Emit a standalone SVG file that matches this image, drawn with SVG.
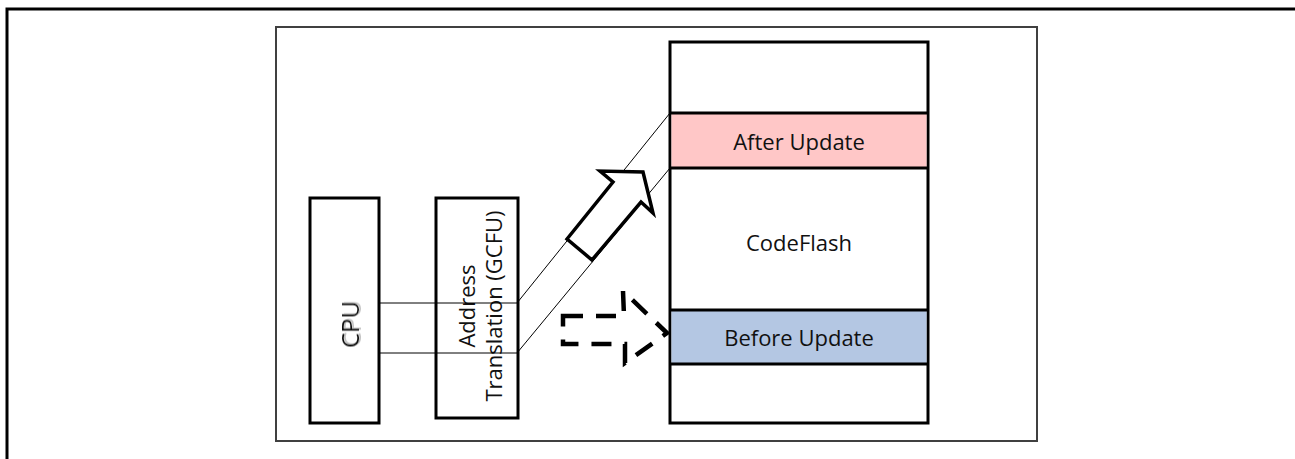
<svg xmlns="http://www.w3.org/2000/svg" width="1295" height="459" viewBox="0 0 1295 459">
  <style>
    .box { fill: #ffffff; stroke: #000000; stroke-width: 3; }
    .label { font-family: "Open Sans", "Liberation Sans", sans-serif; font-size: 22px; fill: #111111; text-anchor: middle; }
    .link { fill: none; stroke: #000000; stroke-width: 1; }
    .divider { stroke: #000000; stroke-width: 3; }
  </style>
  <defs>
    <filter id="softShadow" x="-20%" y="-20%" width="140%" height="140%">
      <feDropShadow dx="1" dy="2" stdDeviation="0.6" flood-color="#9a9a9a" flood-opacity="0.6"/>
    </filter>
  </defs>

  <rect width="1295" height="459" fill="#ffffff"/>

  <!-- page frame, open on the right and bottom -->
  <rect x="7" y="9" width="1310" height="470" fill="none" stroke="#000000" stroke-width="3"/>
  <!-- figure frame -->
  <rect x="276" y="27" width="761" height="414" fill="none" stroke="#404040" stroke-width="2"/>

  <g id="cpu">
    <rect class="box" x="310" y="198" width="69" height="225"/>
    <text class="label" style="font-size:24px" transform="translate(359 324.5) rotate(-90)" filter="url(#softShadow)">CPU</text>
  </g>

  <g id="gcfu">
    <rect class="box" x="436" y="198" width="82" height="220"/>
    <text class="label" transform="translate(475 306) rotate(-90)">Address</text>
    <text class="label" transform="translate(502 306) rotate(-90)">Translation (GCFU)</text>
  </g>

  <g id="codeflash">
    <rect class="box" x="670" y="42" width="258" height="381"/>
    <rect x="671.5" y="113" width="255" height="55" fill="#ffc7c7"/>
    <rect x="671.5" y="310" width="255" height="54" fill="#b4c7e3"/>
    <line class="divider" x1="670" y1="113" x2="928" y2="113"/>
    <line class="divider" x1="670" y1="168" x2="928" y2="168"/>
    <line class="divider" x1="670" y1="310" x2="928" y2="310"/>
    <line class="divider" x1="670" y1="364" x2="928" y2="364"/>
    <text class="label" x="799" y="150">After Update</text>
    <text class="label" x="799" y="251">CodeFlash</text>
    <text class="label" x="799" y="346">Before Update</text>
  </g>

  <g id="connectors">
    <polyline class="link" points="379,303 517,303 670,113"/>
    <polyline class="link" points="379,353 517,353 670,168"/>
    <!-- current mapping: solid block arrow -->
    <polygon points="567,239 613,182 600,171 643,172 653,213 641,202 592,260" fill="#ffffff" stroke="#000000" stroke-width="3.5" stroke-linejoin="miter"/>
    <!-- previous mapping: dashed block arrow -->
    <polygon points="563,316 624,316 623,291 667,333 625,363 625,344 563,344" fill="none" stroke="#000000" stroke-width="4.5" stroke-dasharray="20 13"/>
  </g>
</svg>
